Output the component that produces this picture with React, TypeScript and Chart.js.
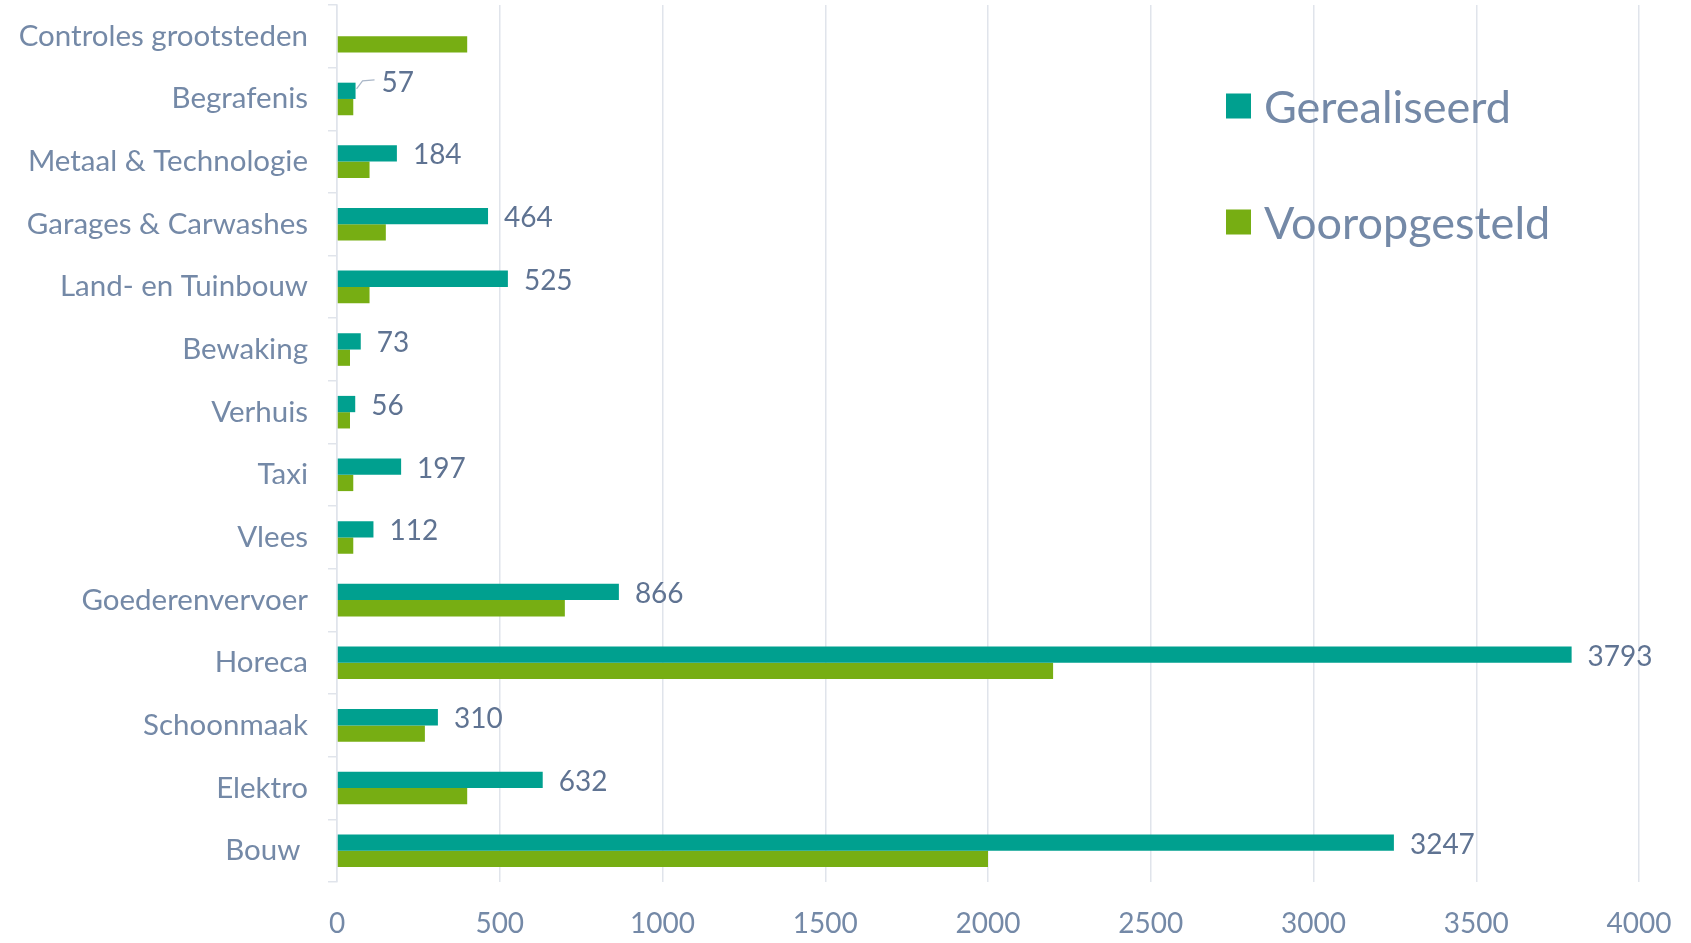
import React, { useEffect, useRef } from "react";
import { Chart, registerables } from "chart.js";

Chart.register(...registerables);

const categories = [
  "Controles grootsteden",
  "Begrafenis",
  "Metaal & Technologie",
  "Garages & Carwashes",
  "Land- en Tuinbouw",
  "Bewaking",
  "Verhuis",
  "Taxi",
  "Vlees",
  "Goederenvervoer",
  "Horeca",
  "Schoonmaak",
  "Elektro",
  "Bouw ",
];
const seriesNames = ["Gerealiseerd", "Vooropgesteld"];
const gerealiseerd: (number | null)[] = [null, 57, 184, 464, 525, 73, 56, 197, 112, 866, 3793, 310, 632, 3247];
const vooropgesteld: number[] = [400, 50, 100, 150, 100, 40, 40, 50, 50, 700, 2200, 270, 400, 2000];
const xMin = 0;
const xMax = 4000;
const xStep = 500;

const FONT = "Lato";
const AXIS_COLOR = "#7489a7";
const LABEL_COLOR = "#5f7392";
const TEAL = "#00a08f";
const GREEN = "#77ae13";

const valueLabels = {
  id: "valueLabels",
  afterDatasetsDraw(chart: any) {
    const ctx = chart.ctx;
    const meta = chart.getDatasetMeta(0);
    const data = chart.data.datasets[0].data;
    ctx.save();
    ctx.font = `28px ${FONT}`;
    ctx.fillStyle = LABEL_COLOR;
    ctx.textAlign = "left";
    ctx.textBaseline = "middle";
    meta.data.forEach((el: any, i: number) => {
      const v = data[i];
      if (v === null || v === undefined) return;
      if (i === 1) {
        ctx.strokeStyle = "#a9b6c7";
        ctx.lineWidth = 1.2;
        ctx.beginPath();
        ctx.moveTo(el.x + 1, el.y - 2);
        ctx.lineTo(el.x + 7, el.y - 10);
        ctx.lineTo(el.x + 19, el.y - 11);
        ctx.stroke();
        ctx.fillText(String(v), el.x + 26, el.y - 8);
      } else {
        ctx.fillText(String(v), el.x + 16, el.y + 2);
      }
    });
    ctx.restore();
  },
};

const customLegend = {
  id: "customLegend",
  afterDraw(chart: any) {
    const ctx = chart.ctx;
    const x = 1226;
    const y0 = 106;
    const gap = 116;
    const box = 25;
    ctx.save();
    ctx.font = `45px ${FONT}`;
    ctx.textAlign = "left";
    ctx.textBaseline = "middle";
    chart.data.datasets.forEach((ds: any, i: number) => {
      const y = y0 + i * gap;
      ctx.fillStyle = ds.backgroundColor;
      ctx.fillRect(x, y - box / 2, box, box);
      ctx.fillStyle = AXIS_COLOR;
      ctx.fillText(ds.label, x + 38, y + 2);
    });
    ctx.restore();
  },
};

export default function App() {
  const ref = useRef<HTMLCanvasElement | null>(null);
  useEffect(() => {
    if (!ref.current) return;
    const chart = new Chart(ref.current, {
      type: "bar",
      data: {
        labels: categories,
        datasets: [
          {
            label: seriesNames[0],
            data: gerealiseerd,
            backgroundColor: TEAL,
            borderWidth: 0,
            barPercentage: 1,
            categoryPercentage: 0.52,
          },
          {
            label: seriesNames[1],
            data: vooropgesteld,
            backgroundColor: GREEN,
            borderWidth: 0,
            barPercentage: 1,
            categoryPercentage: 0.52,
          },
        ],
      },
      options: {
        indexAxis: "y",
        animation: false,
        responsive: true,
        maintainAspectRatio: false,
        layout: { padding: { top: 5, right: 52, bottom: 0, left: 0 } },
        plugins: {
          legend: { display: false },
          tooltip: { enabled: false },
        },
        scales: {
          x: {
            min: xMin,
            max: xMax,
            ticks: {
              stepSize: xStep,
              color: AXIS_COLOR,
              font: { family: FONT, size: 28 },
              padding: 25,
              callback: (v: any) => String(v),
            },
            grid: { color: "#e0e4eb", lineWidth: 1.5, drawTicks: false },
            border: { display: false },
            afterFit(scale: any) {
              scale.height = 61;
              scale.paddingLeft = 0;
              scale.paddingRight = 0;
            },
          },
          y: {
            ticks: {
              color: AXIS_COLOR,
              font: { family: FONT, size: 29.5 },
              padding: 20,
              autoSkip: false,
            },
            grid: {
              offset: true,
              drawOnChartArea: false,
              color: "#e0e4eb",
              lineWidth: 1.5,
              tickLength: 9,
            },
            border: { display: true, color: "#e0e4eb", width: 1.5 },
            afterFit(scale: any) {
              scale.width = 337;
              scale.paddingTop = 0;
              scale.paddingBottom = 0;
            },
          },
        },
      },
      plugins: [valueLabels, customLegend],
    });
    return () => chart.destroy();
  }, []);
  return (
    <div style={{ position: "fixed", left: 0, top: 0, width: 1691, height: 943, background: "#fff" }}>
      <canvas ref={ref} />
    </div>
  );
}
